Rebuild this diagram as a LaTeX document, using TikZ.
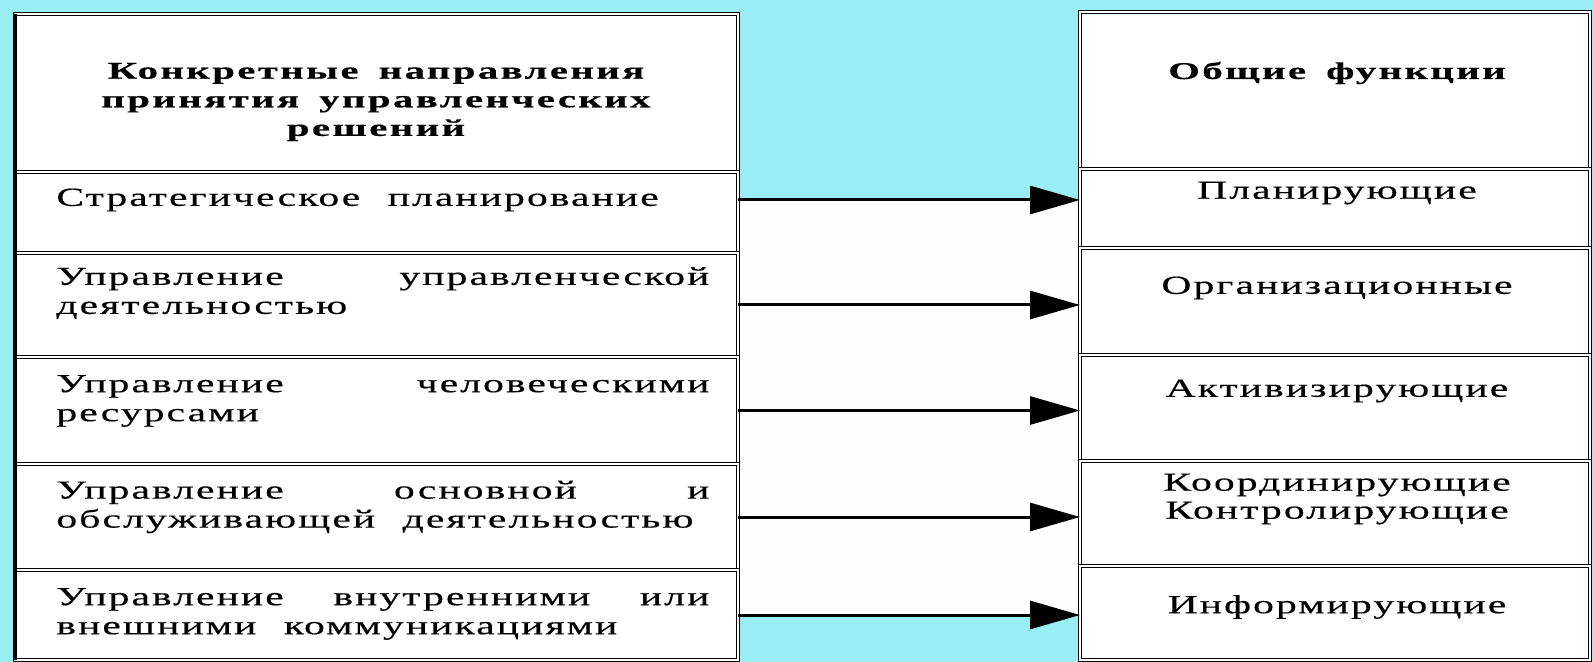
\documentclass[tikz,border=0pt]{standalone}
\usepackage{fontspec}
\setmainfont{Liberation Serif}
\newfontfamily\rowfont[FakeStretch=1.6, LetterSpace=8, WordSpace=2.2, FakeBold=0.4]{Liberation Serif}
\newfontfamily\headfont[FakeStretch=1.7, LetterSpace=10, WordSpace=1.6, FakeBold=0.5]{Liberation Serif}
\usetikzlibrary{arrows.meta}
\definecolor{bgcyan}{RGB}{152,238,243}
\definecolor{bandwhite}{RGB}{253,254,254}
\newcommand{\jline}[1]{\makebox[326.5pt][l]{#1}}
\begin{document}
\begin{tikzpicture}[x=0.5pt,y=-0.5pt,
  cell/.style={draw=black, double=white, double distance=0.9pt, line width=0.75pt,
    fill=white, rectangle, inner sep=0pt, outer sep=0pt, anchor=north west},
  lcell/.style={cell, minimum width=361.5pt},
  rcell/.style={cell, minimum width=255pt},
  rowtext/.style={font=\rowfont\fontsize{13}{14.5}\selectfont, inner sep=0pt, anchor=west, align=left},
  rtext/.style={font=\rowfont\fontsize{13}{14}\selectfont, inner sep=0pt, align=center},
  headtext/.style={font=\headfont\bfseries\fontsize{12}{14.3}\selectfont, inner sep=0pt, align=center},
  arr/.style={line width=1.5pt, -{Triangle[length=25pt, width=14pt]}}
]
\useasboundingbox (0,0) rectangle (1594,662);
\fill[bgcyan] (0,0) rectangle (1594,662);
% white band between the two columns
\path[fill=bandwhite] (730,200) -- (1085,200) -- (1085,615) -- (730,615) -- cycle;

% left column cells
\node[lcell, minimum height=79pt]   (lh) at (15,14)  {};
\node[lcell, minimum height=40.5pt] (l1) at (15,172) {};
\node[lcell, minimum height=52pt]   (l2) at (15,253) {};
\node[lcell, minimum height=53.5pt] (l3) at (15,357) {};
\node[lcell, minimum height=53pt]   (l4) at (15,464) {};
\node[lcell, minimum height=45pt]   (l5) at (15,570) {};

% right column cells
\node[rcell, minimum height=78.5pt] (rh) at (1080,12)  {};
\node[rcell, minimum height=39.5pt] (r1) at (1080,169) {};
\node[rcell, minimum height=53.5pt] (r2) at (1080,248) {};
\node[rcell, minimum height=53pt]   (r3) at (1080,355) {};
\node[rcell, minimum height=52.5pt] (r4) at (1080,461) {};
\node[rcell, minimum height=47pt]   (r5) at (1080,566) {};

% heavier outer left edge of the left column
\draw[line width=2.2pt] (lh.north west) -- (l5.south west);

% texts left
\node[headtext] (tlh) at (376,102) {Конкретные направления\\принятия управленческих\\решений};
\node[rowtext] (tl1) at (56,200) {Стратегическое планирование};
\node[rowtext] (tl2) at (56,293) {\jline{Управление\hfill управленческой}\\\mbox{деятельностью}};
\node[rowtext] (tl3) at (56,401) {\jline{Управление\hfill человеческими}\\\mbox{ресурсами}};
\node[rowtext] (tl4) at (56,507) {\jline{Управление\hfill основной\hfill и}\\\mbox{обслуживающей деятельностью}};
\node[rowtext] (tl5) at (56,614) {\jline{Управление\hfill внутренними\hfill или}\\\mbox{внешними коммуникациями}};

% texts right
\node[headtext] (trh) at (1337,73) {Общие функции};
\node[rtext] (tr1) at (1337,193) {Планирующие};
\node[rtext] (tr2) at (1337,288) {Организационные};
\node[rtext] (tr3) at (1337,391) {Активизирующие};
\node[rtext] (tr4) at (1337,499) {Координирующие\\Контролирующие};
\node[rtext] (tr5) at (1337,607) {Информирующие};

% arrows
\coordinate (wa) at (l1.east |- tl1.west);
\draw[arr] (wa) -- (wa -| r1.west);
\draw[arr] (l2.east) -- (l2.east -| r2.west);
\draw[arr] (l3.east) -- (l3.east -| r3.west);
\draw[arr] (l4.east) -- (l4.east -| r4.west);
\draw[arr] (l5.east) -- (l5.east -| r5.west);
\end{tikzpicture}
\end{document}
